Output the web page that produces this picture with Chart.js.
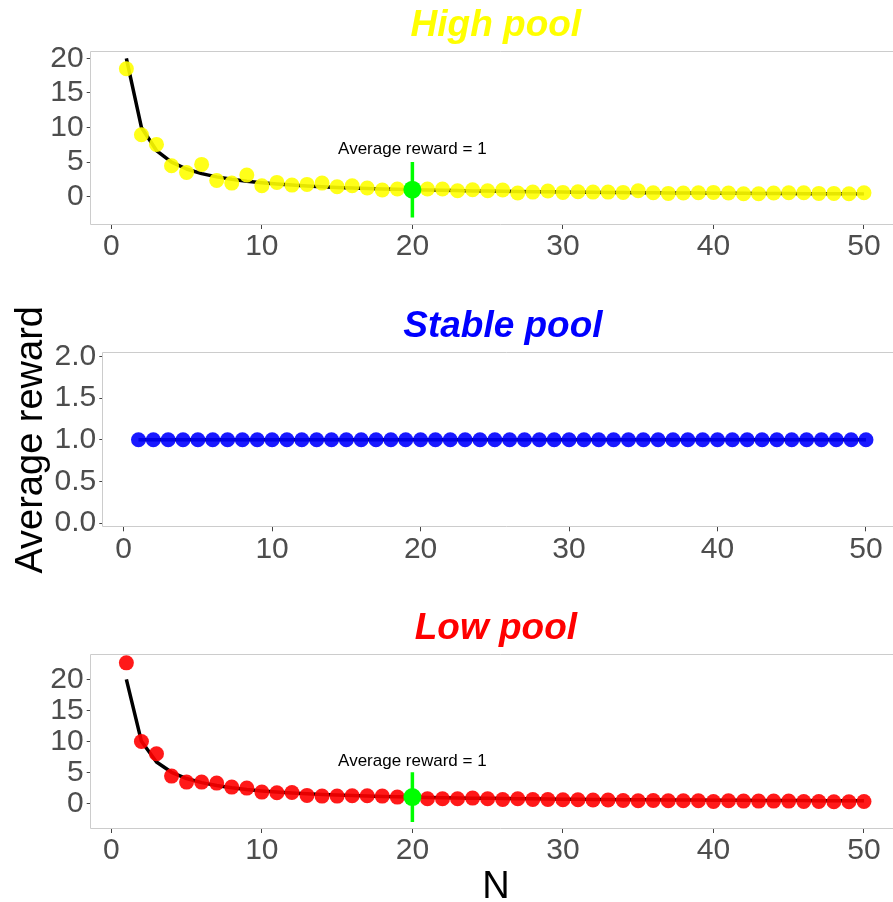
<!DOCTYPE html>
<html>
<head>
<meta charset="utf-8">
<script src="https://cdn.jsdelivr.net/npm/chart.js@4.4.1/dist/chart.umd.min.js"></script>
<style>
  html, body { margin: 0; padding: 0; background: #ffffff; overflow: hidden; }
  #wrap { position: relative; width: 893px; height: 902px; overflow: hidden; background: #ffffff; }
  #wrap canvas { position: absolute; left: 0; }
</style>
</head>
<body>
<div id="wrap">
  <canvas id="high" style="top:0px"></canvas>
  <canvas id="stable" style="top:290px"></canvas>
  <canvas id="low" style="top:600px"></canvas>
</div>
<script>
// Pool size N
const poolSizes = [1,2,3,4,5,6,7,8,9,10,11,12,13,14,15,16,17,18,19,20,
  21,22,23,24,25,26,27,28,29,30,31,32,33,34,35,36,37,38,39,40,
  41,42,43,44,45,46,47,48,49,50];

// Average reward per pool
const highReward = [18.5,8.95,7.55,4.47,3.5,4.66,2.35,1.96,3.12,1.58,
  2.06,1.67,1.77,1.96,1.43,1.58,1.24,0.95,1.1,1.0,
  1.1,1.1,0.86,1.0,0.86,0.95,0.52,0.66,0.81,0.61,
  0.71,0.66,0.66,0.61,0.86,0.57,0.47,0.52,0.57,0.61,
  0.52,0.42,0.42,0.52,0.57,0.57,0.47,0.47,0.42,0.57];

const stableReward = [1,1,1,1,1,1,1,1,1,1,1,1,1,1,1,1,1,1,1,1,1,1,1,1,1,
  1,1,1,1,1,1,1,1,1,1,1,1,1,1,1,1,1,1,1,1,1,1,1,1,1];

const lowReward = [22.67,9.98,7.99,4.39,3.42,3.42,3.26,2.61,2.45,1.81,
  1.7,1.75,1.27,1.16,1.16,1.22,1.22,1.16,1.0,1.0,
  0.73,0.73,0.73,0.84,0.73,0.62,0.73,0.62,0.62,0.57,
  0.57,0.52,0.52,0.46,0.41,0.46,0.41,0.41,0.41,0.3,
  0.41,0.35,0.35,0.35,0.35,0.3,0.3,0.25,0.25,0.3];

// Expected reward curve (total reward 20 shared by N)
const expectedReward = [20,10,6.667,5,4,3.333,2.857,2.5,2.222,2,
  1.818,1.667,1.538,1.429,1.333,1.25,1.176,1.111,1.053,1,
  0.952,0.909,0.870,0.833,0.8,0.769,0.741,0.714,0.690,0.667,
  0.645,0.625,0.606,0.588,0.571,0.556,0.541,0.526,0.513,0.5,
  0.488,0.476,0.465,0.455,0.444,0.435,0.426,0.417,0.408,0.4];

const stableLevel = stableReward.slice();

// Break-even marker
const markerN = 20;
const markerReward = 1;
const markerSpan = [-3, 5];
const markerLabelY = 7;
const markerLabel = 'Average reward = 1';

// Axis ticks
const xTicks = [0,10,20,30,40,50];
const highTicks = [0,5,10,15,20];
const stableTicks = [0,0.5,1,1.5,2];
const lowTicks = [0,5,10,15,20];

const FONT = "'Liberation Sans', Arial, Helvetica, sans-serif";
Chart.defaults.font.family = FONT;

const toXY = (xs, ys) => xs.map((x, i) => ({ x: x, y: ys[i] }));

// Keep the plot area exactly where the layout puts it (no label overhang padding)
const noPad = s => { s.paddingLeft = 0; s.paddingRight = 0; s.paddingTop = 0; s.paddingBottom = 0; };

// Panel frame, heading and marker label
const decor = {
  id: 'decor',
  beforeDatasetsDraw(chart, args, o) {
    const a = chart.chartArea, ctx = chart.ctx;
    ctx.save();
    ctx.strokeStyle = '#cccccc';
    ctx.lineWidth = 1;
    const l = Math.round(a.left) - 0.5, t = Math.round(a.top) + 0.5, b = Math.round(a.bottom) - 0.5;
    ctx.beginPath();
    ctx.moveTo(a.right + 20, t); ctx.lineTo(l, t); ctx.lineTo(l, b); ctx.lineTo(a.right + 20, b);
    ctx.stroke();
    ctx.restore();
  },
  afterDraw(chart, args, o) {
    const a = chart.chartArea, ctx = chart.ctx;
    ctx.save();
    ctx.fillStyle = o.color;
    ctx.font = 'italic bold 37px ' + FONT;
    ctx.textAlign = 'center';
    ctx.textBaseline = 'alphabetic';
    ctx.fillText(o.title, (a.left + a.right) / 2, a.top - 15);
    if (o.marker) {
      const xs = chart.scales.x, ys = chart.scales.y;
      ctx.fillStyle = '#000000';
      ctx.font = '17px ' + FONT;
      ctx.textBaseline = 'middle';
      ctx.fillText(markerLabel, xs.getPixelForValue(markerN), ys.getPixelForValue(markerLabelY) + 1);
    }
    ctx.restore();
  }
};

function makePanel(id, p) {
  const cv = document.getElementById(id);
  cv.width = 910; cv.height = p.height;
  const datasets = [];
  if (p.marker) {
    datasets.push({
      data: [{ x: markerN, y: markerReward }],
      pointRadius: 9, pointBackgroundColor: '#00ff00', pointBorderWidth: 0, order: 0
    });
    datasets.push({
      data: [{ x: markerN, y: markerSpan[0] }, { x: markerN, y: markerSpan[1] }],
      showLine: true, borderColor: '#00ff00', borderWidth: 3.5, pointRadius: 0, order: 1
    });
  }
  datasets.push({
    data: toXY(poolSizes, p.values),
    pointRadius: 7.5, pointBackgroundColor: p.pointColor, pointBorderWidth: 0, order: 2
  });
  datasets.push({
    data: toXY(poolSizes, p.curve),
    showLine: true, borderColor: '#000000', borderWidth: 3.5, pointRadius: 0, order: 3,
    borderJoinStyle: 'round'
  });

  return new Chart(cv, {
    type: 'scatter',
    data: { datasets: datasets },
    plugins: [decor],
    options: {
      responsive: false, animation: false, devicePixelRatio: 1, events: [],
      layout: { padding: { top: p.areaTop, left: 0, right: 0, bottom: 0 } },
      plugins: {
        legend: { display: false }, tooltip: { enabled: false }, title: { display: false },
        decor: { title: p.title, color: p.titleColor, marker: p.marker }
      },
      scales: {
        x: {
          type: 'linear', min: -1.37, max: 52.46,
          afterFit: s => { s.height = p.xHeight; noPad(s); },
          afterBuildTicks: s => { s.ticks = xTicks.map(v => ({ value: v })); },
          grid: { display: true, drawOnChartArea: false, drawTicks: true, tickLength: 4, color: '#444444', lineWidth: 1 },
          border: { display: false },
          ticks: { color: '#4d4d4d', font: { size: 30, lineHeight: 1 }, padding: 3, maxRotation: 0, autoSkip: false,
                   callback: v => String(v) },
          title: p.xTitle ? { display: true, text: p.xTitle, color: '#000000', font: { size: 38, lineHeight: 1 }, padding: { top: 0, bottom: 0 } } : { display: false }
        },
        y: {
          type: 'linear', min: p.yMin, max: p.yMax,
          afterFit: s => { s.width = p.yWidth; noPad(s); },
          afterBuildTicks: s => { s.ticks = p.yTicks.map(v => ({ value: v })); },
          grid: { display: true, drawOnChartArea: false, drawTicks: true, tickLength: 4, color: '#444444', lineWidth: 1 },
          border: { display: false },
          ticks: { color: '#4d4d4d', font: { size: 30, lineHeight: 1 }, padding: 3, autoSkip: false,
                   callback: v => p.yFmt(v) },
          title: p.yTitle ? { display: true, text: p.yTitle, color: '#000000', font: { size: 38, lineHeight: 1.2 }, padding: { top: 9, bottom: 0 } } : { display: false }
        }
      }
    }
  });
}

makePanel('high', {
  height: 290, areaTop: 50.7, xHeight: 65, yWidth: 90.7,
  yMin: -4.1, yMax: 21.1, yTicks: highTicks, yFmt: v => String(v),
  values: highReward, curve: expectedReward, pointColor: 'rgba(255,255,0,0.9)',
  title: 'High pool', titleColor: '#ffff00', marker: true
});

makePanel('stable', {
  height: 310, areaTop: 62.3, xHeight: 72.7, yWidth: 103.3,
  yMin: -0.05, yMax: 2.05, yTicks: stableTicks, yFmt: v => v.toFixed(1),
  values: stableReward, curve: stableLevel, pointColor: 'rgba(0,0,255,0.9)',
  title: 'Stable pool', titleColor: '#0000ff', marker: false, yTitle: 'Average reward'
});

makePanel('low', {
  height: 307, areaTop: 54.3, xHeight: 78, yWidth: 90.7,
  yMin: -4.15, yMax: 24.05, yTicks: lowTicks, yFmt: v => String(v),
  values: lowReward, curve: expectedReward, pointColor: 'rgba(255,0,0,0.9)',
  title: 'Low pool', titleColor: '#ff0000', marker: true, xTitle: 'N'
});
</script>
</body>
</html>
